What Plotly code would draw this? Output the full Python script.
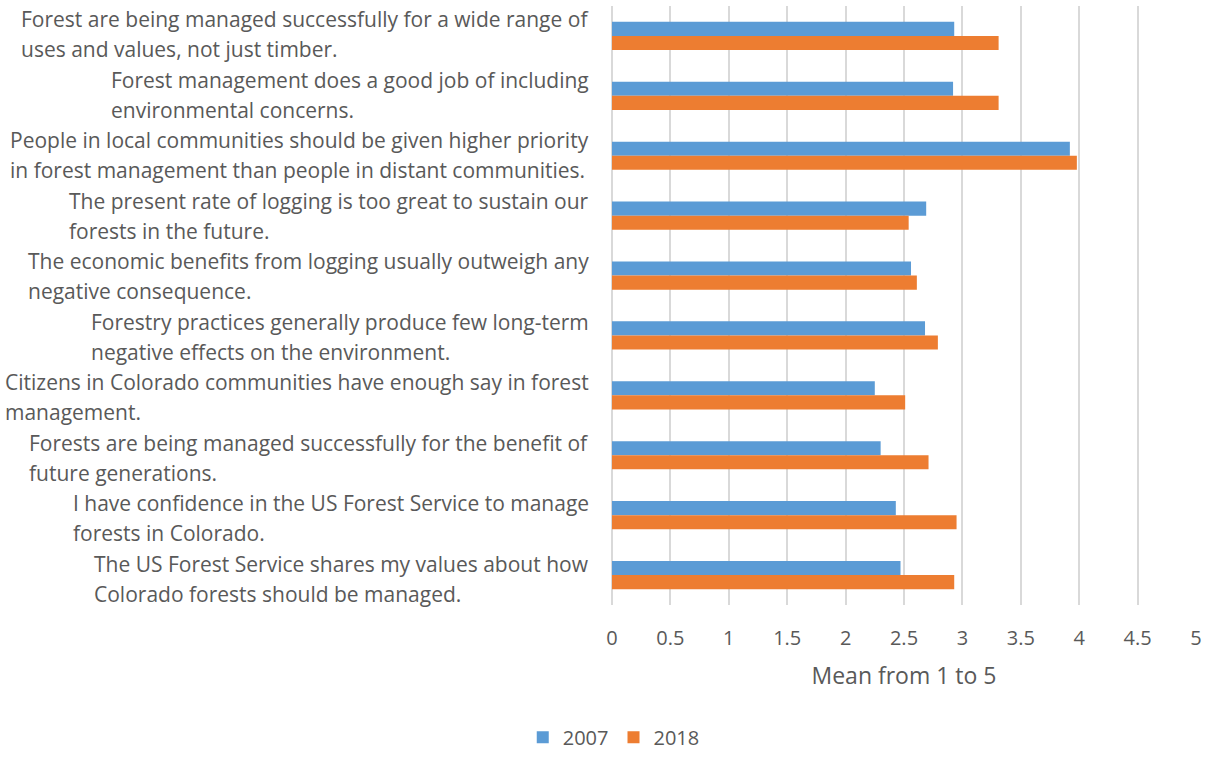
import plotly.graph_objects as go

statements = [
    "Forest are being managed successfully for a wide range of<br>uses and values, not just timber.",
    "Forest management does a good job of including<br>environmental concerns.",
    "People in local communities should be given higher priority<br>in forest management than people in distant communities.",
    "The present rate of logging is too great to sustain our<br>forests in the future.",
    "The economic benefits from logging usually outweigh any<br>negative consequence.",
    "Forestry practices generally produce few long-term<br>negative effects on the environment.",
    "Citizens in Colorado communities have enough say in forest<br>management.",
    "Forests are being managed successfully for the benefit of<br>future generations.",
    "I have confidence in the US Forest Service to manage<br>forests in Colorado.",
    "The US Forest Service shares my values about how<br>Colorado forests should be managed.",
]
mean_2007 = [2.93, 2.92, 3.92, 2.69, 2.56, 2.68, 2.25, 2.30, 2.43, 2.47]
mean_2018 = [3.31, 3.31, 3.98, 2.54, 2.61, 2.79, 2.51, 2.71, 2.95, 2.93]
x_ticks = [0, 0.5, 1, 1.5, 2, 2.5, 3, 3.5, 4, 4.5, 5]

FONT = "Open Sans"
GREY = "#595959"
LABEL_SIZE = 21

fig = go.Figure()
fig.add_trace(go.Bar(name="2007", y=statements, x=mean_2007, orientation="h",
                     marker=dict(color="#5B9BD5", line=dict(width=0))))
fig.add_trace(go.Bar(name="2018", y=statements, x=mean_2018, orientation="h",
                     marker=dict(color="#ED7D31", line=dict(width=0))))

# statement labels: left-aligned two-line blocks ending just left of the axis;
# the annotation font sets a 30px line pitch, spans set the glyph size
for i, s in enumerate(statements):
    styled = "<br>".join(
        f"<span style='font-size:{LABEL_SIZE}px'>{line}</span>" for line in s.split("<br>")
    )
    fig.add_annotation(text=styled, xref="paper", yref="y", x=-0.036, y=s,
                       xanchor="right", yanchor="middle", align="left",
                       yshift=1.5 - 0.6 * i,
                       showarrow=False, font=dict(family=FONT, size=23, color=GREY))

fig.update_layout(
    width=1217, height=757,
    margin=dict(l=612, r=21, t=6, b=152, autoexpand=False),
    paper_bgcolor="white", plot_bgcolor="white",
    barmode="group", bargap=0.53, bargroupgap=0,
    font=dict(family=FONT, size=20, color=GREY),
    xaxis=dict(range=[0, 5], tickvals=x_ticks, ticktext=[str(t) for t in x_ticks],
               showgrid=True, gridcolor="#D9D9D9", gridwidth=1.5,
               zeroline=True, zerolinecolor="#D9D9D9", zerolinewidth=1.5,
               showline=False, ticks="outside", ticklen=15, tickcolor="rgba(0,0,0,0)",
               automargin=False,
               tickfont=dict(family=FONT, size=20, color=GREY),
               title=dict(text="Mean from 1 to 5", standoff=17,
                          font=dict(family=FONT, size=23, color=GREY))),
    yaxis=dict(categoryorder="array", categoryarray=statements, autorange="reversed",
               showticklabels=False, showgrid=False, zeroline=False, automargin=False),
    legend=dict(orientation="h", x=0.003, xanchor="center", y=-0.2535, yanchor="bottom",
                font=dict(family=FONT, size=20, color=GREY), traceorder="normal"),
    showlegend=True,
)

fig.write_html("out.html")
